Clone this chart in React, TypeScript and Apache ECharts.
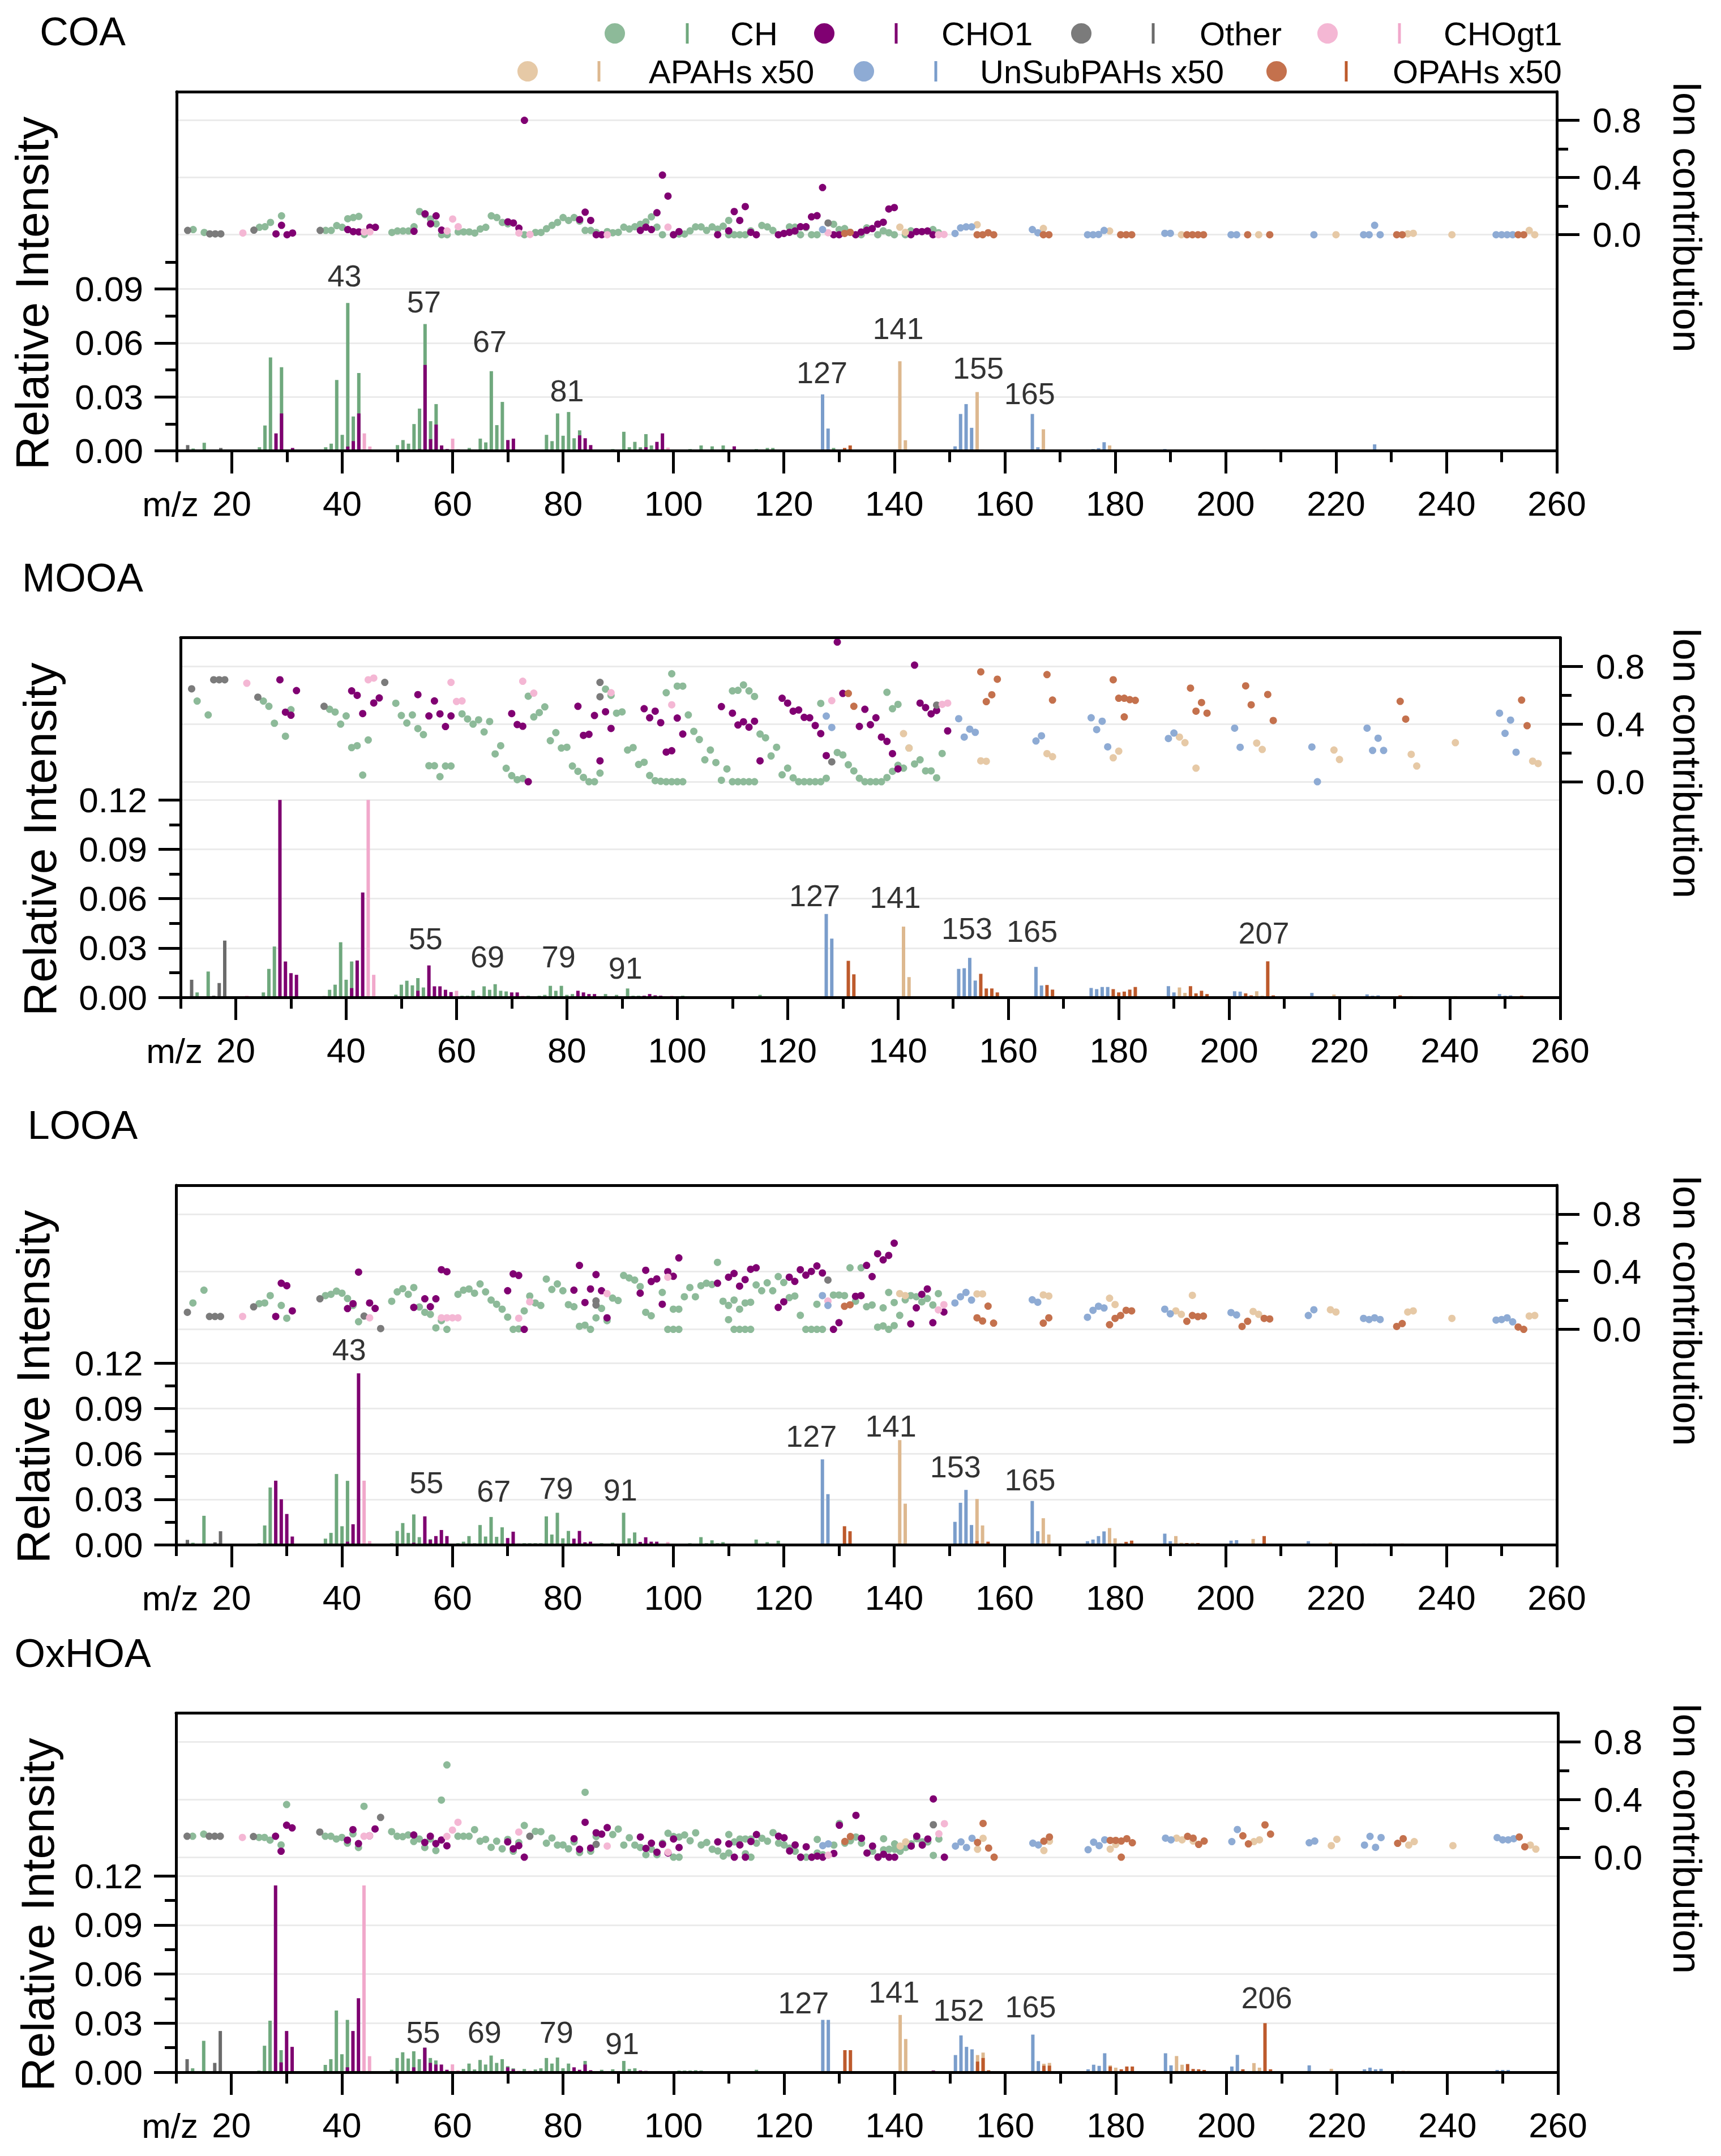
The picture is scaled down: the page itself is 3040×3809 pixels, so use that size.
import { useEffect, useRef } from 'react';
import * as echarts from 'echarts';

const FONT = "'Liberation Sans', Arial, Helvetica, sans-serif";

const GROUPS = ['CH', 'CHO1', 'Other', 'CHOgt1', 'APAHs x50', 'UnSubPAHs x50', 'OPAHs x50'];
const DOT_COLORS = ['#8dba99', '#800072', '#7b7b7b', '#f4b7d4', '#e6c9a6', '#8eabd4', '#c4714d'];
const BAR_COLORS = ['#6fa87d', '#7e0070', '#6b6b6b', '#f1a8cb', '#ddb88f', '#7a9dcb', '#bd5a2c'];

const PANEL_NAMES = ['COA', 'MOOA', 'LOOA', 'OxHOA'];

// tick values
const X_MAJOR = [20, 40, 60, 80, 100, 120, 140, 160, 180, 200, 220, 240, 260];
const X_MINOR = [10, 30, 50, 70, 90, 110, 130, 150, 170, 190, 210, 230, 250];
const INT_TICKS_COA = [0, 0.03, 0.06, 0.09];
const INT_TICKS = [0, 0.03, 0.06, 0.09, 0.12];
const INT_MINOR = [0.015, 0.045, 0.075, 0.105];
const ION_TICKS = [0, 0.4, 0.8];
const ION_MINOR = [0.2, 0.6];

// ---------- COA ----------
const coaBarCH = [[13,.0013],[15,.0045],[25,.002],[26,.0141],[27,.0519],[29,.0465],[37,.002],[38,.004],[39,.0394],[40,.0089],[41,.0822],[42,.0191],[43,.0433],[50,.0032],[51,.006],[52,.004],[53,.0149],[54,.0235],[55,.0705],[56,.0165],[57,.026],[63,.0016],[65,.0068],[66,.0047],[67,.0443],[68,.0143],[69,.0272],[77,.0089],[78,.0054],[79,.0208],[80,.0084],[81,.0216],[82,.007],[83,.0114],[89,.001],[91,.0106],[92,.002],[93,.005],[94,.002],[95,.0093],[96,.003],[103,.001],[105,.003],[107,.0025],[109,.003],[115,.001],[117,.0016],[118,.0016],[129,.0016]];
const coaBarCHO1 = [[28,.0097],[29,.0208],[31,.0016],[41,.0024],[42,.0054],[43,.0208],[54,.001],[55,.0478],[56,.0065],[57,.0146],[58,.003],[59,.001],[70,.006],[71,.0068],[83,.0086],[84,.007],[85,.0032],[94,.001],[95,.002],[97,.005],[98,.0097],[111,.0025]];
const coaBarOther = [[12,.0032],[18,.0016],[24,.0008],[36,.0008]];
const coaBarCHOgt1 = [[22,.0008],[44,.0097],[45,.0024],[60,.0068],[61,.001],[99,.0018]];
const coaBarAPAH = [[141,.0498],[142,.0059],[155,.0327],[167,.012],[179,.003],[191,.0008],[205,.0006],[219,.0006],[233,.0006],[255,.0008]];
const coaBarUnSub = [[127,.0314],[128,.0124],[151,.0025],[152,.0205],[153,.026],[154,.0128],[165,.0205],[166,.002],[175,.0008],[176,.001],[177,.0015],[178,.0048],[189,.001],[190,.0006],[201,.0006],[215,.0006],[225,.0006],[227,.0036],[249,.0006],[251,.0006]];
const coaBarOPAH = [[131,.0016],[132,.003],[145,.0006],[156,.0008],[157,.0006],[168,.0006],[181,.0006],[183,.0006],[193,.0006],[207,.0008],[231,.0006],[253,.0006]];

const coaDotCH = [[13,.036],[15,.016],[25,.052],[26,.056],[27,.086],[29,.132],[37,.03],[38,.03],[39,.064],[40,.052],[41,.112],[42,.12],[43,.128],[44,.002],[49,.016],[50,.026],[51,.026],[52,.026],[53,.056],[54,.162],[55,.14],[56,.11],[57,.076],[58,0],[59,0],[61,.02],[62,.02],[63,.02],[64,.012],[65,.04],[66,.052],[67,.132],[68,.12],[69,.086],[70,.076],[73,0],[75,.016],[76,.016],[77,.042],[78,.066],[79,.086],[80,.12],[81,.1],[82,.12],[83,.095],[84,.03],[85,.03],[86,.016],[88,.022],[89,.014],[90,.017],[91,.053],[92,.04],[93,.056],[94,.073],[95,.09],[96,.125],[97,.053],[98,0],[100,0],[101,.005],[102,.005],[103,.027],[104,.055],[105,.055],[106,.03],[107,.055],[108,.039],[109,.06],[110,.1],[110,0],[111,0],[112,0],[113,0],[114,.027],[116,.065],[117,.055],[118,.03],[121,.055],[122,.053],[123,0],[124,.05],[125,0],[126,0],[129,.073],[130,.036],[131,.043],[132,.017],[134,0],[135,.048],[137,0],[138,.027],[139,.014],[140,0],[142,0],[143,.027],[147,.036],[148,.014]];
const coaDotCHO1 = [[28,.006],[29,.066],[30,0],[31,.012],[41,.036],[42,.022],[43,.02],[45,.052],[46,.052],[53,.024],[55,.146],[56,.076],[57,.132],[58,.032],[70,.09],[71,.082],[72,.046],[73,.8],[83,.106],[84,.158],[85,.1],[86,0],[87,0],[94,.03],[95,.053],[96,.036],[97,.154],[98,.417],[99,.27],[100,0],[101,.022],[108,0],[110,.027],[111,.162],[112,.1],[113,.197],[114,.017],[115,0],[119,0],[120,.009],[121,.017],[122,.026],[123,.056],[124,.056],[125,.125],[126,.133],[127,.33],[129,0],[130,0],[133,0],[134,.019],[135,.031],[136,.043],[137,.074],[138,.087],[139,.18],[140,.19],[143,0],[144,.022],[145,.022],[146,.026],[147,0]];
const coaDotOther = [[12,.03],[16,.006],[17,.006],[18,.006],[24,.032],[36,.03],[128,.082]];
const coaDotCHOgt1 = [[22,.012],[44,.02],[45,.02],[59,.026],[60,.11],[61,.056],[72,.012],[74,.002],[88,0],[99,.053],[128,.014],[148,0],[149,.002]];
const coaDotAPAH = [[141,.053],[142,.017],[155,.07],[167,.044],[179,.026],[192,0],[206,0],[220,0],[233,.006],[234,.01],[241,0],[255,.03],[256,0]];
const coaDotUnSub = [[127,.036],[151,.009],[152,.048],[153,.055],[154,.055],[165,.036],[166,.014],[175,0],[176,0],[177,.002],[178,.03],[189,.01],[190,.01],[201,0],[202,0],[216,0],[225,0],[226,0],[227,.066],[228,0],[249,0],[250,0],[251,0],[252,0]];
const coaDotOPAH = [[131,.009],[132,.017],[155,0],[156,0],[157,.014],[158,0],[167,0],[168,0],[181,0],[182,0],[183,0],[193,0],[194,0],[195,0],[196,0],[204,0],[208,0],[231,0],[232,0],[253,0],[254,0]];
const coaPeaks = [[40.4,.0973,'43'],[54.8,.0828,'57'],[66.7,.061,'67'],[80.7,.0334,'81'],[126.9,.0436,'127'],[140.7,.0682,'141'],[155.2,.0462,'155'],[164.5,.0318,'165']];

// ---------- MOOA ----------
const mooaBarCH = [[13,.003],[15,.0157],[25,.003],[26,.0173],[27,.0309],[37,.0046],[38,.0077],[39,.0335],[40,.0107],[41,.0218],[49,.0016],[50,.0077],[51,.0101],[52,.0073],[53,.0117],[54,.006],[61,.001],[62,.001],[63,.0042],[64,.001],[65,.0067],[66,.0046],[67,.008],[68,.004],[69,.0036],[73,.001],[75,.001],[76,.0015],[77,.007],[78,.004],[79,.007],[80,.0015],[81,.002],[87,.002],[89,.0015],[91,.0054],[92,.001],[93,.001],[101,.001],[115,.0015]];
const mooaBarCHO1 = [[28,.12],[29,.0218],[30,.0147],[31,.0137],[41,.0056],[42,.0224],[43,.0637],[53,.004],[55,.0194],[56,.0067],[57,.0067],[58,.0046],[59,.0032],[70,.003],[71,.003],[82,.004],[83,.003],[84,.002],[85,.002],[94,.001],[95,.002],[96,.0012],[97,.001]];
const mooaBarOther = [[12,.0107],[16,.001],[17,.0087],[18,.0345],[36,.0008]];
const mooaBarCHOgt1 = [[22,.001],[44,.12],[45,.0137],[60,.004],[72,.001],[99,.001]];
const mooaBarAPAH = [[141,.043],[142,.0123],[179,.001],[191,.006],[192,.0027],[205,.0037],[206,.001],[219,.0017],[233,.0008],[241,.0008]];
const mooaBarUnSub = [[127,.0507],[128,.0357],[151,.0173],[152,.0177],[153,.024],[154,.0102],[165,.0185],[166,.0072],[175,.0057],[176,.005],[177,.0063],[178,.0063],[189,.0068],[190,.003],[201,.0037],[202,.0035],[215,.0027],[225,.0018],[226,.001],[227,.0012],[249,.002],[250,.001],[251,.0012]];
const mooaBarOPAH = [[131,.0222],[132,.014],[155,.0143],[156,.0054],[157,.0054],[158,.003],[167,.0075],[168,.0047],[179,.005],[180,.003],[181,.0035],[182,.0047],[183,.0063],[193,.0068],[194,.0024],[195,.004],[196,.002],[203,.0024],[204,.0012],[207,.0219],[208,.0012],[231,.0012],[253,.001]];

const mooaDotCH = [[13,.56],[15,.464],[25,.56],[26,.524],[27,.406],[29,.316],[30,.5],[37,.503],[38,.484],[39,.4],[40,.457],[41,.237],[42,.25],[43,.046],[44,.29],[49,.545],[50,.46],[51,.408],[52,.464],[53,.369],[54,.327],[55,.111],[56,.111],[57,.035],[58,.109],[59,.109],[61,.471],[62,.436],[63,.4],[64,.43],[65,.346],[66,.418],[67,.193],[68,.25],[69,.093],[70,.042],[71,.014],[72,.023],[73,.594],[74,.45],[75,.48],[76,.52],[77,.285],[78,.341],[79,.234],[80,.239],[81,.109],[82,.072],[83,.03],[84,0],[85,0],[86,.06],[87,.643],[88,.6],[89,.476],[90,.485],[91,.22],[92,.237],[93,.12],[94,.135],[95,.043],[96,.007],[97,.003],[98,.618],[98,0],[99,.75],[99,0],[100,.664],[100,0],[101,.664],[101,0],[102,.464],[103,.35],[104,.293],[105,.152],[106,.22],[107,.133],[108,.01],[109,.089],[110,.631],[110,0],[111,.635],[111,0],[112,.672],[112,0],[113,.631],[113,0],[114,.592],[114,0],[115,.331],[116,.305],[117,.179],[118,.239],[119,.048],[120,.094],[121,.027],[122,0],[123,0],[124,0],[125,0],[126,.544],[126,0],[127,.024],[129,.203],[130,.186],[131,.118],[132,.075],[133,.024],[134,0],[135,0],[136,0],[137,0],[138,.621],[138,.029],[139,.507],[139,.072],[140,.537],[140,.114],[141,.094],[142,.234],[143,.123],[144,.152],[145,.075],[146,.075],[147,.027],[148,.196]];
const mooaDotCHO1 = [[28,.708],[29,.483],[30,.462],[31,.633],[41,.631],[42,.6],[43,.473],[45,.547],[46,.582],[53,.605],[55,.457],[56,.561],[57,.471],[58,.383],[59,.457],[70,.473],[71,.397],[72,.385],[73,0],[82,.524],[83,.322],[84,.329],[85,.46],[86,.145],[87,.486],[88,.37],[94,.507],[95,.444],[96,.49],[97,.41],[98,.206],[99,.215],[100,.442],[101,.331],[108,.522],[110,.476],[111,.394],[112,.416],[113,.379],[114,.42],[115,.145],[119,.58],[120,.546],[121,.49],[122,.498],[123,.447],[124,.444],[125,.39],[126,.334],[127,.181],[129,.97],[130,.613],[133,.384],[134,.503],[135,.396],[136,.444],[137,.31],[138,.28],[139,.195],[140,.089],[143,.81],[144,.546],[145,.515],[146,.471],[147,.495],[149,.353]];
const mooaDotOther = [[12,.645],[16,.708],[17,.708],[18,.708],[24,.587],[36,.524],[47,.69],[86,.69],[86,.59],[128,.138],[147,.532]];
const mooaDotCHOgt1 = [[22,.684],[44,.708],[45,.72],[59,.69],[60,.557],[61,.561],[72,.698],[74,.615],[88,.618],[99,.534],[128,.563],[148,.537],[149,.546]];
const mooaDotAPAH = [[141,.334],[142,.234],[155,.145],[156,.142],[167,.195],[168,.174],[179,.166],[180,.212],[191,.31],[192,.271],[194,.094],[205,.268],[206,.224],[219,.22],[220,.154],[233,.19],[234,.109],[241,.271],[255,.143],[256,.126]];
const mooaDotUnSub = [[127,.456],[128,.377],[151,.438],[152,.31],[153,.365],[154,.343],[165,.283],[166,.319],[175,.444],[176,.362],[177,.42],[178,.242],[189,.3],[190,.338],[201,.372],[202,.239],[215,.241],[216,0],[225,.372],[226,.217],[227,.302],[228,.217],[249,.476],[250,.336],[251,.428],[252,.205]];
const mooaDotOPAH = [[131,.613],[132,.524],[155,.763],[156,.556],[157,.604],[158,.712],[167,.744],[168,.567],[179,.708],[180,.58],[181,.58],[181,.45],[182,.57],[183,.565],[193,.65],[194,.49],[195,.55],[196,.476],[203,.666],[204,.534],[207,.606],[208,.425],[231,.558],[232,.435],[253,.567],[254,.389]];
const mooaPeaks = [[54.4,.0358,'55'],[65.6,.0248,'69'],[78.5,.0248,'79'],[90.6,.0179,'91'],[124.9,.062,'127'],[139.5,.061,'141'],[152.5,.042,'153'],[164.3,.0404,'165'],[206.3,.0392,'207']];

// ---------- LOOA ----------
const looaBarCH = [[13,.0013],[15,.0191],[25,.001],[26,.0127],[27,.0378],[37,.004],[38,.0078],[39,.0467],[40,.0122],[41,.0422],[49,.001],[50,.0091],[51,.0143],[52,.0078],[53,.02],[54,.005],[56,.0037],[61,.001],[62,.002],[63,.0057],[64,.001],[65,.013],[66,.0054],[67,.0183],[68,.0052],[69,.0115],[73,.001],[74,.001],[75,.001],[76,.001],[77,.0187],[78,.0067],[79,.0211],[80,.0042],[81,.0091],[87,.001],[89,.0013],[91,.0211],[92,.0042],[93,.0081],[94,.0016],[103,.001],[105,.005],[106,.001],[107,.0029],[108,.001],[109,.0017],[115,.0034],[117,.0017],[119,.0026],[129,.0005]];
const looaBarCHO1 = [[22,.0005],[28,.0423],[29,.03],[30,.0203],[31,.0054],[41,.002],[42,.0135],[43,.1132],[53,.0013],[55,.0187],[56,.0032],[57,.0057],[58,.0097],[59,.0057],[70,.0044],[71,.0086],[72,.0008],[82,.004],[83,.0091],[84,.0016],[85,.002],[94,.0018],[95,.0049],[96,.002],[97,.002],[111,.0008]];
const looaBarOther = [[12,.0032],[17,.0016],[18,.0089],[36,.0005]];
const looaBarCHOgt1 = [[44,.0423],[45,.0024],[60,.0005],[99,.0018]];
const looaBarAPAH = [[141,.0691],[142,.0271],[155,.0302],[156,.0127],[167,.0175],[168,.0067],[179,.011],[180,.0042],[191,.0057],[192,.0013],[194,.0013],[205,.0038],[206,.0008],[219,.0015],[233,.0006]];
const looaBarUnSub = [[127,.0564],[128,.0334],[151,.0151],[152,.0277],[153,.0362],[154,.013],[165,.0289],[166,.0089],[175,.0023],[176,.0034],[177,.0057],[178,.0088],[189,.0073],[190,.0023],[201,.0027],[202,.003],[215,.0023],[225,.0008],[226,.0008],[227,.0008],[228,.0008],[249,.0006],[250,.0006]];
const looaBarOPAH = [[131,.0122],[132,.0089],[155,.0024],[157,.002],[181,.0008],[182,.0019],[183,.0027],[193,.0011],[195,.0011],[207,.0057],[232,.0008]];

const looaDotCH = [[13,.183],[15,.272],[25,.178],[26,.183],[27,.234],[29,.166],[30,.077],[37,.234],[38,.243],[39,.265],[40,.251],[41,.214],[42,.166],[43,.053],[49,.195],[50,.26],[51,.282],[52,.243],[53,.29],[54,.155],[55,.118],[56,.104],[57,.01],[58,.06],[59,0],[61,.243],[62,.272],[63,.28],[64,.251],[65,.315],[66,.26],[67,.203],[68,.174],[69,.14],[70,.085],[71,0],[72,.003],[73,.128],[74,.231],[75,.183],[76,.166],[77,.349],[78,.277],[79,.315],[80,.268],[81,.171],[82,.157],[83,.021],[84,.029],[85,0],[86,.08],[87,.145],[88,.06],[89,.217],[90,.2],[91,.374],[92,.357],[93,.342],[94,.297],[95,.118],[96,.094],[98,.256],[99,0],[100,.14],[100,0],[101,.14],[101,0],[102,.226],[103,.29],[104,.226],[105,.303],[106,.32],[107,.311],[108,.465],[109,.195],[110,.166],[110,.067],[111,.203],[111,0],[112,.14],[112,0],[113,.183],[113,0],[114,.188],[114,0],[115,.308],[116,.268],[117,.323],[118,.268],[119,.366],[120,.325],[121,.22],[122,.231],[123,.097],[124,0],[125,0],[126,.174],[126,0],[127,0],[129,.238],[130,.238],[131,.234],[132,.427],[133,.195],[134,.427],[135,.157],[136,.169],[137,.015],[138,.149],[138,.024],[139,.256],[139,0],[140,.186],[140,.026],[141,.097],[142,.205],[143,.234],[144,.226],[145,.191],[146,.214],[147,.169],[148,.248]];
const looaDotCHO1 = [[28,.089],[29,.32],[30,.303],[31,.128],[41,.144],[42,.178],[43,.397],[45,.183],[46,.145],[53,.152],[55,.212],[56,.157],[57,.212],[58,.414],[59,.4],[70,.268],[71,.385],[72,.374],[73,0],[82,.272],[83,.444],[84,.186],[85,.28],[86,.38],[87,.268],[88,.08],[94,.251],[95,.41],[96,.332],[97,.35],[98,.174],[99,.4],[100,.368],[101,.496],[108,.32],[110,.362],[111,.388],[112,.3],[113,.345],[114,.417],[115,.427],[119,.152],[120,.191],[121,.362],[122,.333],[123,.414],[124,.376],[125,.402],[126,.44],[127,.391],[129,0],[130,.046],[133,.229],[134,.234],[135,.444],[136,.366],[137,.525],[138,.482],[139,.513],[140,.598],[143,.038],[144,.149],[145,.243],[146,.28],[147,.046],[149,.12]];
const looaDotOther = [[12,.118],[16,.089],[17,.089],[18,.089],[24,.156],[36,.212],[44,.092],[47,.005],[86,.197],[86,.169],[128,.342]];
const looaDotCHOgt1 = [[22,.089],[45,.08],[58,.08],[59,.08],[60,.08],[61,.08],[72,.077],[74,.191],[88,.248],[99,.362],[128,.196],[148,.135],[149,.171]];
const looaDotAPAH = [[141,.248],[142,.234],[155,.246],[156,.246],[167,.239],[168,.231],[179,.216],[180,.172],[191,.128],[192,.104],[194,.236],[205,.124],[206,.104],[219,.136],[220,.12],[233,.12],[234,.128],[241,.076],[255,.092],[256,.096]];
const looaDotUnSub = [[127,.234],[128,.166],[151,.183],[152,.226],[153,.256],[154,.203],[165,.205],[166,.188],[175,.084],[176,.132],[177,.16],[178,.148],[189,.14],[190,.108],[201,.116],[202,.1],[215,.096],[216,.136],[225,.076],[226,.068],[227,.08],[228,.068],[249,.064],[250,.068],[251,.08],[252,.052]];
const looaDotOPAH = [[131,.16],[132,.17],[155,.08],[156,.058],[157,.161],[158,.043],[167,.043],[168,.08],[179,.032],[180,.076],[181,.096],[182,.132],[183,.128],[193,.056],[194,.096],[195,.088],[196,.092],[203,.02],[204,.056],[207,.076],[208,.072],[231,.02],[232,.04],[253,.016],[254,0]];
const looaPeaks = [[41.3,.129,'43'],[55.3,.0411,'55'],[67.5,.0355,'67'],[78.8,.0375,'79'],[90.4,.0363,'91'],[125,.0719,'127'],[139.4,.0787,'141'],[151.1,.0516,'153'],[164.6,.043,'165']];

// ---------- OxHOA ----------
const oxBarCH = [[13,.0024],[15,.0192],[25,.001],[26,.0162],[27,.0315],[29,.0135],[37,.0045],[38,.008],[39,.0377],[40,.011],[41,.032],[49,.0015],[50,.0087],[51,.0122],[52,.0084],[53,.0128],[54,.008],[55,.015],[56,.0087],[57,.0072],[62,.002],[63,.0053],[64,.0017],[65,.0075],[66,.0047],[67,.0102],[68,.0057],[69,.008],[70,.0037],[71,.0024],[73,.002],[75,.0017],[76,.0024],[77,.0087],[78,.0053],[79,.009],[80,.0024],[81,.0053],[84,.0069],[87,.0015],[89,.0018],[91,.0069],[92,.002],[93,.0024],[101,.001],[102,.001],[103,.001],[104,.0012],[105,.001],[115,.0015]];
const oxBarCHO1 = [[28,.1142],[29,.006],[30,.0252],[31,.0155],[41,.003],[42,.0252],[43,.0452],[53,.003],[55,.015],[56,.0057],[57,.0047],[58,.0047],[59,.0015],[70,.003],[71,.0018],[82,.003],[83,.0015],[84,.0047],[85,.0012],[94,.001],[95,.0008],[147,.001]];
const oxBarOther = [[12,.008],[17,.0057],[18,.0252]];
const oxBarCHOgt1 = [[44,.1142],[45,.0098],[60,.0048],[61,.0012],[72,.0009],[74,.0009]];
const oxBarAPAH = [[141,.035],[142,.0203],[155,.0105],[156,.012],[167,.0052],[168,.0057],[179,.0042],[180,.0028],[191,.0099],[192,.0046],[205,.0056],[206,.0028],[219,.0021],[233,.0008]];
const oxBarUnSub = [[127,.032],[128,.032],[151,.0105],[152,.0225],[153,.0155],[154,.014],[165,.023],[166,.0068],[175,.0018],[176,.0046],[177,.0039],[178,.0116],[189,.0116],[190,.0042],[201,.0035],[202,.0106],[215,.0042],[225,.0018],[226,.0028],[227,.0018],[228,.0021],[249,.0014],[250,.0014],[251,.0014]];
const oxBarOPAH = [[131,.0135],[132,.0135],[155,.0065],[156,.0087],[157,.0012],[167,.004],[168,.004],[179,.0035],[181,.0018],[182,.0035],[183,.0035],[193,.005],[194,.002],[195,.0018],[196,.0014],[203,.0018],[207,.03],[208,.0018],[231,.0008],[232,.0008]];

const oxDotCH = [[13,.145],[15,.16],[25,.137],[26,.137],[27,.118],[29,.085],[30,.365],[37,.145],[38,.145],[39,.126],[40,.137],[41,.097],[42,.162],[43,.067],[44,.353],[49,.177],[50,.145],[51,.142],[52,.154],[53,.109],[54,.126],[55,.067],[56,.126],[57,.046],[58,.396],[59,.64],[61,.145],[62,.145],[63,.145],[64,.191],[65,.111],[66,.123],[67,.068],[68,.111],[69,.058],[70,.123],[71,.041],[72,.101],[73,.22],[75,.179],[76,.177],[77,.097],[78,.133],[79,.084],[80,.085],[81,.058],[82,.106],[83,.032],[84,.45],[85,.041],[86,.143],[89,.157],[90,.195],[91,.084],[92,.135],[93,.084],[94,.067],[95,.017],[96,.055],[97,.017],[98,.097],[99,.166],[100,.143],[100,0],[101,.14],[101,0],[102,.154],[103,.114],[104,.169],[105,.085],[106,.102],[107,.055],[108,.043],[109,.007],[110,.157],[110,.029],[111,.106],[112,.126],[113,.126],[113,.024],[114,.126],[114,0],[115,.097],[116,.131],[117,.111],[118,.17],[119,.097],[120,.085],[121,.063],[122,.041],[123,0],[124,0],[125,0],[126,.123],[126,.029],[127,.017],[129,.084],[130,.234],[131,.097],[132,.114],[133,.14],[134,.097],[136,.041],[137,.003],[138,.128],[138,.051],[139,.055],[140,.092],[140,.055],[141,.041],[142,.067],[143,.092],[144,.128],[145,.106],[146,.106],[147,.012],[148,.126]];
const oxDotCHO1 = [[28,.145],[29,.041],[30,.222],[31,.203],[41,.118],[42,.191],[43,.094],[45,.148],[46,.196],[53,.154],[55,.102],[56,.145],[57,.094],[58,.119],[59,.079],[70,.106],[71,.058],[72,.08],[73,0],[82,.128],[83,.055],[84,.242],[85,.063],[86,.169],[87,.16],[88,.205],[94,.14],[95,.061],[96,.097],[97,.034],[98,.089],[99,.029],[100,.126],[101,.067],[108,.106],[110,.092],[111,0],[112,.085],[113,0],[114,.109],[115,.157],[119,.145],[120,.135],[121,.043],[122,.085],[123,0],[124,.072],[125,0],[126,.007],[127,0],[129,.026],[130,.222],[133,.29],[134,.131],[135,.029],[136,.077],[137,0],[138,.02],[139,0],[140,0],[143,.077],[144,.145],[145,.084],[146,.126],[147,.404],[149,0]];
const oxDotOther = [[12,.145],[16,.145],[17,.145],[18,.145],[24,.143],[36,.174],[47,.276],[74,.145],[86,.089],[147,.225]];
const oxDotCHOgt1 = [[22,.137],[44,.145],[45,.148],[59,.144],[60,.188],[61,.242],[72,.174],[88,.077],[99,.034],[128,.014],[148,.162],[149,.232]];
const oxDotAPAH = [[141,.077],[142,.106],[155,.055],[156,.131],[167,.046],[168,.111],[179,.056],[180,.088],[191,.132],[192,.12],[194,.112],[205,.108],[206,.12],[219,.08],[220,.124],[233,.084],[234,.108],[241,.08],[255,.084],[256,.056]];
const oxDotUnSub = [[127,.08],[128,.092],[151,.077],[152,.106],[153,.067],[154,.131],[165,.097],[166,.085],[175,.052],[176,.104],[177,.08],[178,.12],[189,.132],[190,.12],[201,.108],[202,.192],[215,.1],[216,.112],[225,.084],[226,.144],[227,.068],[228,.136],[249,.136],[250,.12],[251,.12],[252,.128]];
const oxDotOPAH = [[131,.109],[132,.143],[155,.102],[156,.234],[157,.063],[158,0],[167,.111],[168,.14],[179,.116],[180,.116],[181,0],[181,.112],[182,.128],[183,.1],[193,.144],[194,.132],[195,.088],[196,.112],[203,.148],[204,.092],[207,.224],[208,.16],[231,.096],[232,.128],[253,.14],[254,.072]];
const oxPeaks = [[54.7,.0246,'55'],[65.8,.0246,'69'],[78.8,.0246,'79'],[90.7,.0176,'91'],[123.5,.0426,'127'],[139.9,.049,'141'],[151.6,.038,'152'],[164.6,.0402,'165'],[207.3,.0457,'206']];

const BARS = [
  [coaBarCH, coaBarCHO1, coaBarOther, coaBarCHOgt1, coaBarAPAH, coaBarUnSub, coaBarOPAH],
  [mooaBarCH, mooaBarCHO1, mooaBarOther, mooaBarCHOgt1, mooaBarAPAH, mooaBarUnSub, mooaBarOPAH],
  [looaBarCH, looaBarCHO1, looaBarOther, looaBarCHOgt1, looaBarAPAH, looaBarUnSub, looaBarOPAH],
  [oxBarCH, oxBarCHO1, oxBarOther, oxBarCHOgt1, oxBarAPAH, oxBarUnSub, oxBarOPAH],
];
const DOTS = [
  [coaDotCH, coaDotCHO1, coaDotOther, coaDotCHOgt1, coaDotAPAH, coaDotUnSub, coaDotOPAH],
  [mooaDotCH, mooaDotCHO1, mooaDotOther, mooaDotCHOgt1, mooaDotAPAH, mooaDotUnSub, mooaDotOPAH],
  [looaDotCH, looaDotCHO1, looaDotOther, looaDotCHOgt1, looaDotAPAH, looaDotUnSub, looaDotOPAH],
  [oxDotCH, oxDotCHO1, oxDotOther, oxDotCHOgt1, oxDotAPAH, oxDotUnSub, oxDotOPAH],
];
const PEAKS = [coaPeaks, mooaPeaks, looaPeaks, oxPeaks];

// panel geometry (px) and axis spans chosen so both scales line up with the frame
const LAYOUT = [
  { left: 304, top: 154, width: 2438, height: 634.5, barMax: 0.1997, ionMin: -1.511, ticks: INT_TICKS_COA, nameX: 48 },
  { left: 311, top: 1118.7, width: 2437, height: 635.3, barMax: 0.2186, ionMin: -1.498, ticks: INT_TICKS, nameX: 62 },
  { left: 303.5, top: 2086, width: 2438.5, height: 635, barMax: 0.2375, ionMin: -1.495, ticks: INT_TICKS, nameX: 50 },
  { left: 303, top: 3018.5, width: 2441, height: 634.5, barMax: 0.2195, ionMin: -1.493, ticks: INT_TICKS, nameX: 58 },
];

// legend: [circle x, bar x, text x, row y]
const LEGEND_POS = [
  [1078, 1206, 1282, 51], [1448, 1575, 1655, 51], [1902, 2029, 2111, 51], [2337, 2464, 2542, 51],
  [924, 1050, 1138, 118], [1518, 1645, 1723, 118], [2247, 2370, 2452, 118],
];

const AXIS_W = 5;
const lineStyle = { color: '#000', width: AXIS_W };
const gridLine = { show: true, lineStyle: { color: '#ebebeb', width: 3 } };
const tickFont = { fontSize: 62, color: '#000', fontFamily: FONT };

const App = () => {
  const chartRef = useRef<HTMLDivElement>(null);

  useEffect(() => {
    if (!chartRef.current) return;
    const chart = echarts.init(chartRef.current, null, { renderer: 'svg' });

    const grid: any[] = [];
    const xAxis: any[] = [];
    const yAxis: any[] = [];
    const series: any[] = [];
    const graphic: any[] = [];

    LAYOUT.forEach((L, p) => {
      grid.push({ left: L.left, top: L.top, width: L.width, height: L.height, show: false });

      const xBase = { type: 'value', gridIndex: p, min: 10, max: 260, splitLine: { show: false } };
      xAxis.push({
        ...xBase, position: 'bottom', z: 5,
        axisLine: { show: true, onZero: false, lineStyle },
        axisTick: { show: true, customValues: X_MAJOR, length: 40, lineStyle },
        axisLabel: { show: true, customValues: X_MAJOR, margin: 62, ...tickFont },
      });
      xAxis.push({
        ...xBase, position: 'bottom', z: 5,
        axisLine: { show: false, onZero: false },
        axisTick: { show: true, customValues: X_MINOR, length: 20, lineStyle },
        axisLabel: { show: false },
      });
      xAxis.push({
        ...xBase, position: 'top', z: 5,
        axisLine: { show: true, onZero: false, lineStyle },
        axisTick: { show: false },
        axisLabel: { show: false },
      });

      const intBase = { type: 'value', gridIndex: p, position: 'left', min: 0, max: L.barMax };
      yAxis.push({
        ...intBase,
        axisLine: { show: true, onZero: false, lineStyle },
        axisTick: { show: true, customValues: L.ticks, length: 39, lineStyle },
        axisLabel: { show: true, customValues: L.ticks, margin: 59, formatter: (v: number) => v.toFixed(2), ...tickFont },
        splitLine: gridLine,
      });
      yAxis.push({
        ...intBase,
        axisLine: { show: false, onZero: false },
        axisTick: { show: true, customValues: INT_MINOR, length: 20, lineStyle },
        axisLabel: { show: false },
        splitLine: { show: false },
      });
      const ionBase = { type: 'value', gridIndex: p, position: 'right', min: L.ionMin, max: 1 };
      yAxis.push({
        ...ionBase,
        axisLine: { show: true, onZero: false, lineStyle },
        axisTick: { show: true, customValues: ION_TICKS, length: 40, lineStyle },
        axisLabel: { show: true, customValues: ION_TICKS, margin: 63, formatter: (v: number) => v.toFixed(1), ...tickFont },
        splitLine: gridLine,
      });
      yAxis.push({
        ...ionBase,
        axisLine: { show: false, onZero: false },
        axisTick: { show: true, customValues: ION_MINOR, length: 20, lineStyle },
        axisLabel: { show: false },
        splitLine: { show: false },
      });

      GROUPS.forEach((g, k) => {
        series.push({
          type: 'bar', name: g, xAxisIndex: p * 3, yAxisIndex: p * 4,
          data: BARS[p][k], barWidth: 6, barGap: '-100%',
          itemStyle: { color: BAR_COLORS[k] }, silent: true,
        });
      });
      GROUPS.forEach((g, k) => {
        series.push({
          type: 'scatter', name: g, xAxisIndex: p * 3, yAxisIndex: p * 4 + 2,
          data: DOTS[p][k], symbolSize: 13,
          itemStyle: { color: DOT_COLORS[k], opacity: 1 }, silent: true,
        });
      });
      series.push({
        type: 'scatter', xAxisIndex: p * 3, yAxisIndex: p * 4, z: 10,
        data: PEAKS[p], symbolSize: 0, silent: true,
        label: {
          show: true, position: 'inside', formatter: (d: any) => d.data[2],
          fontSize: 54, color: '#000', fontFamily: FONT,
        },
      });

      const baseY = L.top + L.height;
      graphic.push(
        { type: 'text', x: 138, y: L.top - 106, style: { text: PANEL_NAMES[p], fontSize: 70, fontFamily: FONT, fill: '#000', textAlign: 'center', textVerticalAlign: 'middle' } },
        { type: 'text', x: L.nameX, y: L.top + 356, rotation: Math.PI / 2, style: { text: 'Relative Intensity', fontSize: 82, fontFamily: FONT, fill: '#000', textAlign: 'center', textVerticalAlign: 'middle' } },
        { type: 'text', x: 2972, y: L.top + 221, rotation: -Math.PI / 2, style: { text: 'Ion contribution', fontSize: 70, fontFamily: FONT, fill: '#000', textAlign: 'center', textVerticalAlign: 'middle' } },
        { type: 'text', x: L.left + 39, y: baseY + 94, style: { text: 'm/z', fontSize: 62, fontFamily: FONT, fill: '#000', textAlign: 'right', textVerticalAlign: 'middle' } },
      );
    });

    GROUPS.forEach((g, k) => {
      const [cx, lx, tx, y] = LEGEND_POS[k];
      graphic.push(
        { type: 'circle', shape: { cx, cy: y, r: 18 }, style: { fill: DOT_COLORS[k] } },
        { type: 'rect', shape: { x: lx - 2.5, y: y - 18, width: 5, height: 36 }, style: { fill: BAR_COLORS[k] } },
        { type: 'text', x: tx, y, style: { text: g, fontSize: 58, fontFamily: FONT, fill: '#000', textAlign: 'left', textVerticalAlign: 'middle' } },
      );
    });

    chart.setOption({
      animation: false,
      backgroundColor: '#fff',
      grid, xAxis, yAxis, series, graphic,
    });

    const handleResize = () => chart.resize();
    window.addEventListener('resize', handleResize);
    return () => {
      window.removeEventListener('resize', handleResize);
      chart.dispose();
    };
  }, []);

  return <div ref={chartRef} style={{ width: '3024px', height: '3793px' }} />;
};

export default App;
